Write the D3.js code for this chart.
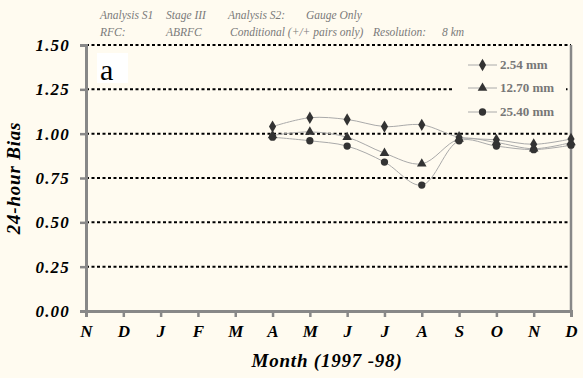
<!DOCTYPE html>
<html><head><meta charset="utf-8">
<script src="https://cdn.jsdelivr.net/npm/d3@7"></script>
<style>html,body{margin:0;padding:0;background:#FFFBF0;}svg{display:block;}
svg text{font-family:"Liberation Serif","Times New Roman",serif;}</style>
</head><body>
<script>
const months = ["N","D","J","F","M","A","M","J","J","A","S","O","N","D"];
const dataMonthIdx = [5,6,7,8,9,10,11,12,13];
const s254 = [1.04,1.09,1.08,1.04,1.05,0.98,0.965,0.94,0.97];
const s1270 = [0.99,1.01,0.98,0.89,0.83,0.97,0.95,0.915,0.95];
const s2540 = [0.98,0.96,0.93,0.84,0.71,0.96,0.93,0.91,0.935];
const yTicks = [0,0.25,0.5,0.75,1.0,1.25,1.5];
const seriesNames = ["2.54 mm","12.70 mm","25.40 mm"];

const W=583,H=378;
const svg=d3.select("body").append("svg").attr("width",W).attr("height",H);
svg.append("rect").attr("width",W).attr("height",H).attr("fill","#FFFBF0");
const x=d3.scaleLinear().domain([0,13]).range([86,571]);
const y=d3.scaleLinear().domain([0,1.5]).range([311,45]);
const serif='"Liberation Serif","Times New Roman",serif';

// header
const hdr=[["Analysis S1",100,19],["Stage III",166,19],["Analysis S2:",228,19],["Gauge Only",306,19],
 ["RFC:",100,36],["ABRFC",166,36],["Conditional (+/+ pairs only)",230,36],["Resolution:",373,36],["8 km",442,36]];
svg.selectAll("text.hdr").data(hdr).enter().append("text").attr("class","hdr")
 .attr("x",d=>d[1]).attr("y",d=>d[2]).text(d=>d[0])
 .style("font-family",serif).style("font-style","italic").style("font-size","11.5px").attr("fill","#7a7a7a");

// gridlines
svg.selectAll("line.grid").data(yTicks.filter(v=>v>0)).enter().append("line").attr("class","grid")
 .attr("x1",x(0)).attr("x2",x(13)).attr("y1",d=>y(d)).attr("y2",d=>y(d))
 .attr("stroke","#000").attr("stroke-width",2).attr("stroke-dasharray","3,2.5");

// right border
svg.append("line").attr("x1",x(13)).attr("x2",x(13)).attr("y1",y(1.5)).attr("y2",y(0)).attr("stroke","#888").attr("stroke-width",2.5);

// y axis
const ya=svg.append("g").attr("transform",`translate(${x(0)},0)`)
 .call(d3.axisLeft(y).tickValues(yTicks).tickFormat(d3.format(".2f")).tickSize(6).tickPadding(10));
ya.select(".domain").attr("stroke","#888").attr("stroke-width",3);
ya.selectAll(".tick line").attr("stroke","#888").attr("stroke-width",2.5);
ya.selectAll("text").style("font-family",serif).style("font-style","italic").style("font-weight","bold")
 .style("font-size","17px").style("letter-spacing","1.2px").attr("fill","#000");

// x axis
const xa=svg.append("g").attr("transform",`translate(0,${y(0)})`)
 .call(d3.axisBottom(x).tickValues(d3.range(14)).tickFormat(i=>months[i]).tickSize(6).tickPadding(8));
xa.select(".domain").attr("stroke","#888").attr("stroke-width",3);
xa.selectAll(".tick line").attr("stroke","#888").attr("stroke-width",2.5);
xa.selectAll("text").style("font-family",serif).style("font-style","italic").style("font-weight","bold")
 .style("font-size","17px").attr("fill","#000");

// axis titles
svg.append("text").attr("x",327).attr("y",367).attr("text-anchor","middle").text("Month (1997 -98)")
 .style("font-family",serif).style("font-style","italic").style("font-weight","bold").style("font-size","19px").style("letter-spacing","0.8px");
svg.append("text").attr("transform","translate(20,178) rotate(-90)").attr("text-anchor","middle").text("24-hour Bias")
 .style("font-family",serif).style("font-style","italic").style("font-weight","bold").style("font-size","19px").style("letter-spacing","0.8px");

// "a" box
svg.append("rect").attr("x",97).attr("y",53).attr("width",31).attr("height",30).attr("fill","#fff");
svg.append("text").attr("x",100).attr("y",80).text("a").style("font-family",serif).style("font-size","30px").attr("fill","#000");

// legend box
svg.append("rect").attr("x",452).attr("y",52).attr("width",114).attr("height",72).attr("fill","#FFFBF0");

const sym=[d3.symbolDiamond,d3.symbolTriangle,d3.symbolCircle];
const symSize=[44,40,42];
const allSeries=[s254,s1270,s2540];
const line=d3.line().x(d=>x(d[0])).y(d=>y(d[1])).curve(d3.curveCatmullRom.alpha(0.5));
allSeries.forEach((s,k)=>{
  const pts=dataMonthIdx.map((m,i)=>[m,s[i]]);
  svg.append("path").datum(pts).attr("d",line).attr("fill","none").attr("stroke","#aaa").attr("stroke-width",1);
});
allSeries.forEach((s,k)=>{
  const pts=dataMonthIdx.map((m,i)=>[m,s[i]]);
  svg.selectAll(null).data(pts).enter().append("path")
   .attr("d",d3.symbol().type(sym[k]).size(symSize[k]))
   .attr("transform",d=>`translate(${x(d[0])},${y(d[1])})`).attr("fill","#333");
});

// legend
const ly=[65,88,112];
seriesNames.forEach((n,k)=>{
  svg.append("line").attr("x1",468).attr("x2",497).attr("y1",ly[k]).attr("y2",ly[k]).attr("stroke","#aaa").attr("stroke-width",1);
  svg.append("path").attr("d",d3.symbol().type(sym[k]).size(symSize[k])).attr("transform",`translate(482.5,${ly[k]})`).attr("fill","#333");
  svg.append("text").attr("x",500).attr("y",ly[k]+4).text(n).style("font-family",serif).style("font-weight","bold")
   .style("font-size","13px").attr("fill","#777");
});
</script>
</body></html>
